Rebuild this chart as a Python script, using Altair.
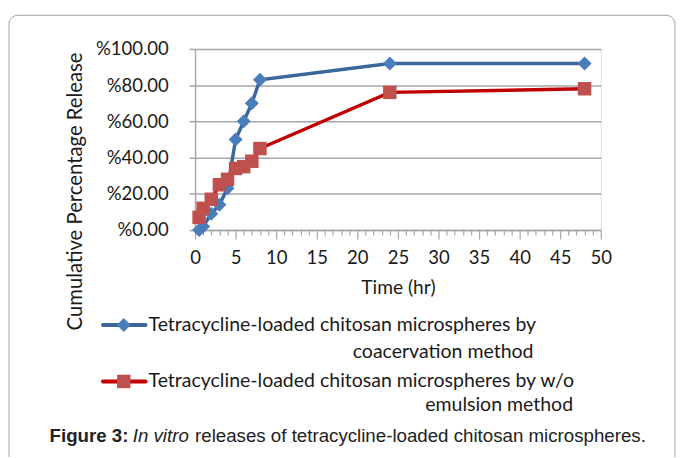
import altair as alt
import pandas as pd

# ---- data ----
time_coac = [0.5, 1, 2, 3, 4, 5, 6, 7, 8, 24, 48]
release_coac = [0, 2, 9, 14, 23, 50, 60, 70, 83, 92, 92]
time_emul = [0.5, 1, 2, 3, 4, 5, 6, 7, 8, 24, 48]
release_emul = [7, 12, 17, 25, 28, 34, 35, 38, 45, 76, 78]

series_names = [
    "Tetracycline-loaded chitosan microspheres by coacervation method",
    "Tetracycline-loaded chitosan microspheres by w/o emulsion method",
]
legend_lines = [
    ["Tetracycline-loaded chitosan microspheres by", "coacervation method"],
    ["Tetracycline-loaded chitosan microspheres by w/o", "emulsion method"],
]
y_title = "Cumulative Percentage Release"
x_title = "Time (hr)"
caption_parts = ["Figure 3:", "In vitro", "releases of tetracycline-loaded chitosan microspheres."]
x_ticks = list(range(0, 51))
y_ticks = [0, 20, 40, 60, 80, 100]

df_coac = pd.DataFrame({"time": time_coac, "release": release_coac, "series": series_names[0]})
df_emul = pd.DataFrame({"time": time_emul, "release": release_emul, "series": series_names[1]})

# ---- styling ----
W, H = 410, 183
OX, OY = 197, 47  # plot origin in page coords (8px page margin included)
FONT = "Lato"
CAP_FONT = "Liberation Sans"
BLUE_LINE, BLUE_MARK = "#3c679b", "#4a7ebb"
RED_LINE, RED_MARK = "#c00000", "#c0504d"
GRID = "#a6a6a6"
TXT = "#1a1a1a"
TICK_FS = 18.7
LEG_FS = 19.7


def px(v):
    return alt.value(v - OX)


def py(v):
    return alt.value(v - OY)


xscale = alt.Scale(domain=[0, 50], nice=False)
yscale = alt.Scale(domain=[0, 100], nice=False)

x_enc = alt.X(
    "time:Q",
    scale=xscale,
    axis=alt.Axis(
        values=x_ticks,
        labelExpr="datum.value % 5 == 0 ? datum.label : ''",
        labelOverlap=False,
        labelBound=False,
        grid=False,
        domainColor=GRID,
        domainWidth=1.5,
        tickColor=GRID,
        tickWidth=1.2,
        tickSize={"condition": {"test": "datum.value % 5 == 0", "value": 9}, "value": 5},
        labelFont=FONT,
        labelFontSize=TICK_FS,
        labelColor=TXT,
        labelPadding=10,
        labelFlush=False,
        title=x_title,
        titleFont=FONT,
        titleFontSize=19.4,
        titleFontWeight="normal",
        titleColor=TXT,
        titlePadding=11,
    ),
)
y_enc = alt.Y(
    "release:Q",
    scale=yscale,
    axis=alt.Axis(
        values=y_ticks,
        labelExpr="'%' + format(datum.value, '.2f')",
        labelOverlap=False,
        labelBound=False,
        grid=True,
        gridColor=GRID,
        gridWidth=1.5,
        domainColor=GRID,
        domainWidth=1.5,
        tickColor=GRID,
        tickWidth=1.5,
        tickSize=6,
        labelFont=FONT,
        labelFontSize=TICK_FS,
        labelColor=TXT,
        labelPadding=21,
        title=None,
    ),
)

line_coac = alt.Chart(df_coac).mark_line(color=BLUE_LINE, strokeWidth=3.5).encode(x=x_enc, y=y_enc)
pts_coac = alt.Chart(df_coac).mark_point(
    shape="diamond", filled=True, color=BLUE_MARK, size=200, opacity=1
).encode(x=x_enc, y=y_enc)
line_emul = alt.Chart(df_emul).mark_line(color=RED_LINE, strokeWidth=3.5).encode(x=x_enc, y=y_enc)
pts_emul = alt.Chart(df_emul).mark_point(
    shape="square", filled=True, color=RED_MARK, size=185, opacity=1
).encode(x=x_enc, y=y_enc)

dummy = pd.DataFrame({"k": [0]})

box = alt.Chart(dummy).mark_rect(
    fill="white", fillOpacity=0, stroke="#a0a0a0", strokeWidth=1, cornerRadius=9
).encode(x=px(9), x2=px(682), y=py(13), y2=py(520))

ytitle = alt.Chart(dummy).mark_text(
    text=y_title, angle=270, font=FONT, fontSize=20.5, color=TXT, align="center", baseline="middle"
).encode(x=px(77), y=py(191))

legend_layers = []
legend_y = [(326, 353), (383, 407)]
legend_right = [539, 579]
colors = [(BLUE_LINE, BLUE_MARK, "diamond", 200), (RED_LINE, RED_MARK, "square", 185)]
for i in range(2):
    ly1, ly2 = legend_y[i]
    lc, mc, shp, sz = colors[i]
    legend_layers.append(
        alt.Chart(dummy).mark_rule(color=lc, strokeWidth=4, strokeCap="round").encode(
            x=px(104), x2=px(147), y=py(ly1)
        )
    )
    legend_layers.append(
        alt.Chart(dummy).mark_point(shape=shp, filled=True, color=mc, size=sz, opacity=1).encode(
            x=px(125), y=py(ly1)
        )
    )
    legend_layers.append(
        alt.Chart(dummy).mark_text(
            text=legend_lines[i][0], font=FONT, fontSize=LEG_FS, color=TXT, align="left", baseline="middle"
        ).encode(x=px(150), y=py(ly1))
    )
    legend_layers.append(
        alt.Chart(dummy).mark_text(
            text=legend_lines[i][1], font=FONT, fontSize=LEG_FS, color=TXT, align="right", baseline="middle"
        ).encode(x=px(legend_right[i]), y=py(ly2))
    )

cap_y = 438
CAP_FS = 18.9
cap1 = alt.Chart(dummy).mark_text(
    text=caption_parts[0], font=CAP_FONT, fontSize=CAP_FS, fontWeight="bold", color="#222222",
    align="left", baseline="middle"
).encode(x=px(50), y=py(cap_y))
cap2 = alt.Chart(dummy).mark_text(
    text=caption_parts[1], font=CAP_FONT, fontSize=CAP_FS, fontStyle="italic", color="#222222",
    align="left", baseline="middle"
).encode(x=px(134), y=py(cap_y))
cap3 = alt.Chart(dummy).mark_text(
    text=caption_parts[2], font=CAP_FONT, fontSize=CAP_FS, color="#222222",
    align="left", baseline="middle"
).encode(x=px(197), y=py(cap_y))

chart = alt.layer(
    box, line_coac, pts_coac, line_emul, pts_emul, ytitle, *legend_layers, cap1, cap2, cap3
).properties(
    width=W,
    height=H,
    autosize=alt.AutoSizeParams(type="none"),
    padding={"left": OX - 8, "top": OY - 8, "right": 675 - (OX - 8) - W, "bottom": 449 - (OY - 8) - H},
).configure_view(stroke=None).configure(background="white").configure_axis(
    labelOverlap=False, labelBound=False
)

chart.save("out.html", embed_options={"renderer": "svg", "actions": False})
